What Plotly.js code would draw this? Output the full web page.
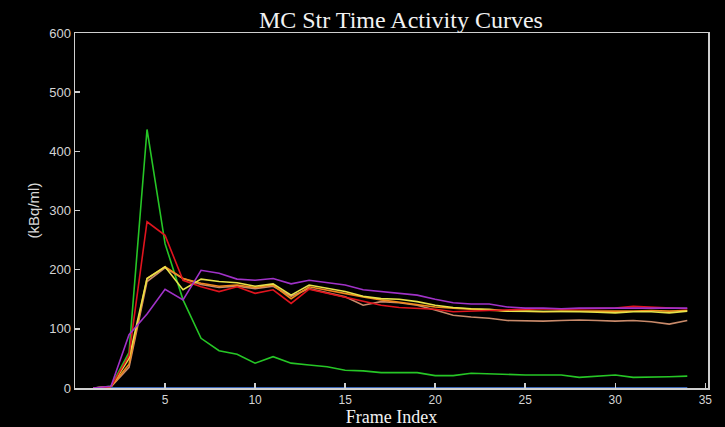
<!DOCTYPE html>
<html>
<head>
<meta charset="utf-8">
<script src="https://cdn.plot.ly/plotly-3.0.1.min.js"></script>
<style>html,body{margin:0;padding:0;background:#000;}#chart{width:725px;height:427px;}</style>
</head>
<body>
<div id="chart"></div>
<script>
const frames = [1,2,3,4,5,6,7,8,9,10,11,12,13,14,15,16,17,18,19,20,21,22,23,24,25,26,27,28,29,30,31,32,33,34];
const blueFrames = [2,3,4,5,6,7,8,9,10,11,12,13,14,15,16,17,18,19,20,21,22,23,24,25,26,27,28,29,30,31,32,33,34];
const blueVals   = [0,0,0,0,0,0,0,0,0,0,0,0,0,0,0,0,0,0,0,0,0,0,0,0,0,0,0,0,0,0,0,0,0];
const greenVals  = [0,3,60,437,244,149,84,63,57,42,53,42,39,36,30,29,26,26,26,21,21,25,24,22,22,22,22,18,20,22,18,18,19,20];
const tanVals    = [0,2,35,180,203,185,175,170,172,168,172,155,168,161,154,140,146,144,140,132,123,120,118,114,113,113,114,115,114,113,114,112,108,114];
const orangeVals = [0,2,40,185,205,185,177,172,174,170,174,151,171,165,160,154,149,145,142,137,135,133,131,130,130,129,130,130,130,129,130,131,130,131];
const yellowVals = [0,2,50,185,205,166,184,180,178,172,176,157,174,168,163,155,151,150,146,140,136,134,133,130,130,129,129,129,128,127,129,129,127,130];
const redVals    = [0,2,55,281,258,182,171,163,171,160,166,143,167,160,154,146,140,136,135,133,129,130,131,133,134,134,133,134,134,135,138,137,135,134];
const purpleVals = [0,3,90,125,167,149,199,194,184,182,185,176,182,178,174,166,163,161,157,150,144,142,142,137,135,135,134,135,135,136,136,135,135,135];

const xTicks = [5,10,15,20,25,30,35];
const yTicks = [0,100,200,300,400,500,600];

function line(x, y, color, w) {
  return {x: x, y: y, type: 'scatter', mode: 'lines', line: {color: color, width: w || 1.6}, hoverinfo: 'skip'};
}

const traces = [
  line(frames, greenVals, '#26c626'),
  line(frames, tanVals, '#c98a6a'),
  line(frames, orangeVals, '#f08a1e'),
  line(frames, yellowVals, '#e6e24a'),
  line(frames, redVals, '#e0141e'),
  line(frames, purpleVals, '#a032c8'),
  line(blueFrames, blueVals, '#3a64b4', 2)
];

const axisCol = '#cfcfcf';
const layout = {
  width: 725, height: 427,
  paper_bgcolor: '#000', plot_bgcolor: '#000',
  showlegend: false,
  margin: {l: 75, r: 17, t: 33, b: 39},
  title: {text: 'MC Str Time Activity Curves', x: 0.553, xanchor: 'center', y: 0.953, yanchor: 'middle',
          font: {family: 'Liberation Serif, Times New Roman, serif', size: 24, color: '#f2f2f2'}},
  xaxis: {
    range: [0, 35.15], tickvals: xTicks, ticktext: xTicks.map(String),
    showgrid: false, zeroline: false,
    showline: true, linecolor: axisCol, linewidth: 1.5, mirror: true,
    ticks: 'inside', ticklen: 5, tickcolor: axisCol, tickwidth: 1.5,
    tickfont: {family: 'Liberation Sans, Arial, sans-serif', size: 12, color: '#d4d4d4'},
    title: {text: 'Frame Index', standoff: 0, font: {family: 'Liberation Serif, Times New Roman, serif', size: 18, color: '#f2f2f2'}}
  },
  yaxis: {
    range: [0, 600], tickvals: yTicks, ticktext: yTicks.map(String),
    showgrid: false, zeroline: false,
    showline: true, linecolor: axisCol, linewidth: 1.5, mirror: true,
    ticks: 'inside', ticklen: 5, tickcolor: axisCol, tickwidth: 1.5,
    tickfont: {family: 'Liberation Sans, Arial, sans-serif', size: 13, color: '#d4d4d4'},
    title: {text: '(kBq/ml)', standoff: 6, font: {family: 'Liberation Sans, Arial, sans-serif', size: 15, color: '#d8d8d8'}}
  }
};

Plotly.newPlot('chart', traces, layout, {staticPlot: true, displayModeBar: false});
</script>
</body>
</html>
